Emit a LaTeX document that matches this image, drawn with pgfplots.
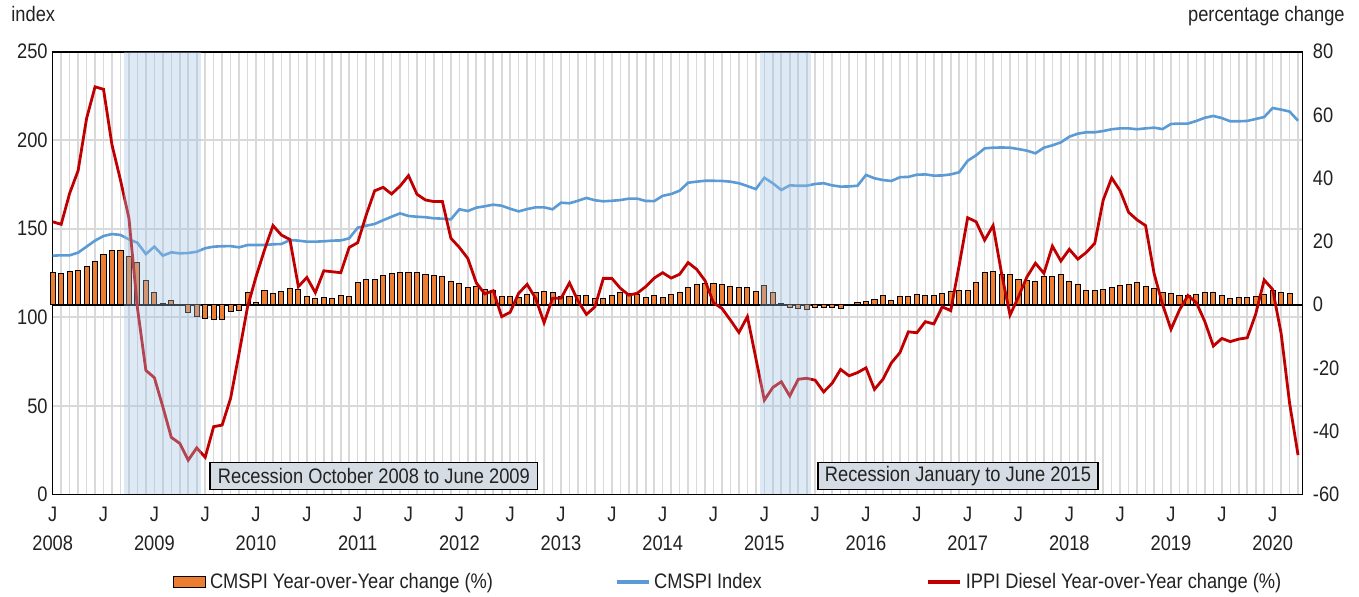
\documentclass[border=0pt]{standalone}
\usepackage{fontspec}
\setmainfont[FakeStretch=0.87]{Liberation Sans}
\usepackage{pgfplots}
\usepackage{pgfplotstable}
\pgfplotsset{compat=1.18}
\definecolor{barorange}{HTML}{ED7D31}
\definecolor{idxblue}{HTML}{5B9BD5}
\definecolor{dieselred}{HTML}{C00000}
\definecolor{gridgray}{HTML}{D9D9D9}
\definecolor{recfill}{HTML}{9DC3E6}
\definecolor{boxfill}{HTML}{D6DCE4}
\definecolor{txt}{HTML}{222222}

\pgfplotstableread{
m v
0 10.1
1 9.9
2 10.6
3 10.7
4 12.2
5 13.7
6 15.9
7 17.2
8 17.0
9 15.1
10 13.3
11 7.6
12 3.8
13 0.2
14 1.4
15 -0.3
16 -2.6
17 -3.6
18 -4.5
19 -4.7
20 -4.7
21 -2.3
22 -2.0
23 3.9
24 0.8
25 4.5
26 3.6
27 4.2
28 5.2
29 4.8
30 2.7
31 1.8
32 2.1
33 1.8
34 2.8
35 2.7
36 7.1
37 7.8
38 8.0
39 9.3
40 9.8
41 10.2
42 10.2
43 10.1
44 9.6
45 9.1
46 8.8
47 7.4
48 6.7
49 5.5
50 5.7
51 4.9
52 4.4
53 2.7
54 2.7
55 2.2
56 3.3
57 3.9
58 4.0
59 3.9
60 2.5
61 2.5
62 2.8
63 3.0
64 1.8
65 1.8
66 2.9
67 3.9
68 3.4
69 3.1
70 2.3
71 2.8
72 2.3
73 3.3
74 3.8
75 5.5
76 6.4
77 6.8
78 6.6
79 6.3
80 5.8
81 5.5
82 5.5
83 4.3
84 6.1
85 3.7
86 0.2
87 -1.0
88 -1.3
89 -1.5
90 -1.0
91 -0.9
92 -1.0
93 -1.3
94 -0.3
95 0.8
96 0.9
97 1.7
98 3.0
99 1.4
100 2.7
101 2.7
102 3.1
103 3.0
104 2.9
105 3.6
106 4.0
107 4.5
108 4.6
109 6.9
110 10.2
111 10.5
112 9.6
113 9.4
114 8.0
115 7.5
116 7.3
117 8.8
118 9.0
119 9.5
120 7.4
121 6.5
122 4.6
123 4.6
124 4.9
125 5.4
126 6.1
127 6.5
128 6.9
129 5.6
130 5.1
131 3.9
132 3.6
133 2.9
134 2.9
135 3.3
136 3.8
137 3.7
138 2.9
139 1.9
140 2.3
141 2.1
142 2.5
143 3.3
144 4.4
145 3.8
146 3.4
}\bars

\pgfplotstableread{
m v
0 134.8
1 135.0
2 135.0
3 136.5
4 139.9
5 143.3
6 145.9
7 147.0
8 146.5
9 144.0
10 142.1
11 135.7
12 139.9
13 134.8
14 136.7
15 136.1
16 136.3
17 137.0
18 139.0
19 139.9
20 140.1
21 140.2
22 139.5
23 140.8
24 140.8
25 140.8
26 141.2
27 141.4
28 143.6
29 143.3
30 142.7
31 142.7
32 142.9
33 143.3
34 143.4
35 144.6
36 150.6
37 151.7
38 152.7
39 154.8
40 156.8
41 158.7
42 157.2
43 156.8
44 156.5
45 155.9
46 155.7
47 155.3
48 161.0
49 160.0
50 161.9
51 162.7
52 163.6
53 163.0
54 161.3
55 159.8
56 161.1
57 162.1
58 162.1
59 161.0
60 164.7
61 164.4
62 165.8
63 167.4
64 166.1
65 165.5
66 165.8
67 166.2
68 167.0
69 167.0
70 165.7
71 165.6
72 168.6
73 169.6
74 171.5
75 176.0
76 176.6
77 177.1
78 177.1
79 177.0
80 176.6
81 175.7
82 174.1
83 172.4
84 178.8
85 175.7
86 171.9
87 174.5
88 174.3
89 174.3
90 175.3
91 175.7
92 174.5
93 173.8
94 173.9
95 174.3
96 180.4
97 178.5
98 177.5
99 177.0
100 179.1
101 179.3
102 180.5
103 180.7
104 180.0
105 180.1
106 180.7
107 181.9
108 188.4
109 191.5
110 195.4
111 195.8
112 195.9
113 195.8
114 195.0
115 194.1
116 192.6
117 195.8
118 197.1
119 198.8
120 202.0
121 203.7
122 204.5
123 204.5
124 205.2
125 206.2
126 206.7
127 206.7
128 206.2
129 206.7
130 207.1
131 206.3
132 209.2
133 209.4
134 209.4
135 210.9
136 212.7
137 213.7
138 212.5
139 210.7
140 210.7
141 210.9
142 212.0
143 213.1
144 218.2
145 217.3
146 216.2
147 211.0
}\cmspi

\pgfplotstableread{
m v
0 26.2
1 25.4
2 35.2
3 42.4
4 58.9
5 68.9
6 68.1
7 50.5
8 39.4
9 27.3
10 -1.0
11 -20.8
12 -23.1
13 -32.3
14 -42.0
15 -43.9
16 -49.2
17 -45.3
18 -48.3
19 -38.6
20 -38.1
21 -29.6
22 -15.4
23 -0.7
24 8.8
25 17.3
26 25.0
27 22.0
28 20.6
29 5.7
30 8.6
31 3.8
32 10.7
33 10.4
34 10.1
35 18.1
36 19.6
37 28.3
38 36.0
39 37.1
40 35.0
41 37.5
42 40.8
43 34.9
44 33.1
45 32.6
46 32.6
47 21.0
48 18.1
49 14.6
50 6.9
51 3.4
52 4.4
53 -3.8
54 -2.4
55 3.6
56 6.4
57 2.0
58 -5.7
59 2.0
60 2.0
61 6.9
62 1.2
63 -3.1
64 -0.7
65 8.3
66 8.3
67 5.2
68 3.0
69 3.6
70 5.7
71 8.4
72 10.1
73 8.4
74 9.6
75 13.3
76 11.2
77 7.6
78 0.6
79 -1.2
80 -4.9
81 -8.8
82 -3.8
83 -17.0
84 -30.2
85 -26.2
86 -24.4
87 -28.9
88 -23.6
89 -23.3
90 -23.9
91 -27.6
92 -24.9
93 -20.5
94 -22.5
95 -21.5
96 -20.0
97 -26.8
98 -23.6
99 -18.4
100 -15.2
101 -8.6
102 -8.9
103 -5.4
104 -6.1
105 -0.7
106 -1.9
107 12.5
108 27.5
109 26.2
110 20.4
111 25.0
112 9.9
113 -3.3
114 2.5
115 8.8
116 13.1
117 9.9
118 18.5
119 13.8
120 17.5
121 14.4
122 16.5
123 19.4
124 33.1
125 40.1
126 36.0
127 29.2
128 26.8
129 25.0
130 9.9
131 0.1
132 -7.8
133 -1.7
134 2.9
135 0.6
136 -5.4
137 -13.1
138 -10.7
139 -11.7
140 -10.9
141 -10.5
142 -3.0
143 7.8
144 4.8
145 -9.1
146 -31.2
147 -47.6
}\diesel

\pgfplotsset{
  common/.style={
    width=624.8pt, height=221.3pt, scale only axis,
    at={(0,0)}, anchor=south west,
    xmin=0, xmax=147.5,
    major tick length=0pt, minor tick length=0pt,
    tick label style={font=\fontsize{10.5}{12}\selectfont, text=txt},
    /pgf/number format/assume math mode=true,
    legend style={draw=none, fill=none, inner sep=0pt, outer sep=0pt,
      anchor=west, font=\fontsize{10.5}{12}\selectfont, text=txt,
      legend cell align=left},
  },
}

\begin{document}
\begin{tikzpicture}
\useasboundingbox (-26.35pt,-50.85pt) rectangle (653.15pt,247.15pt);

% Axis A: left scale, grid, CMSPI index
\begin{axis}[common, name=A,
  ymin=0, ymax=250, ytick={0,50,...,250},
  xtick={0,6,...,144},
  xticklabels={{J\\2008},J,{J\\2009},J,{J\\2010},J,{J\\2011},J,{J\\2012},J,{J\\2013},J,{J\\2014},J,{J\\2015},J,{J\\2016},J,{J\\2017},J,{J\\2018},J,{J\\2019},J,{J\\2020}},
  xticklabel style={align=center, font=\fontsize{10.5}{14.65}\selectfont, yshift=-2.7pt},
  minor xtick={0,1,...,147},
  grid=both,
  major grid style={draw=gridgray, line width=0.8pt},
  minor grid style={draw=gridgray, line width=0.8pt},
  axis line style={black, line width=0.8pt},
  ytick pos=left, xtick pos=bottom,
  yticklabel style={xshift=1pt},
  legend style={at={(0.4500,-0.1981)}},
  legend image code/.code={\draw[idxblue, line width=1.6pt] (0pt,0pt) -- (16pt,0pt);},
]
\addplot[idxblue, line width=1.3pt] table[x=m, y=v] {\cmspi};
\addlegendentry{CMSPI Index}
\end{axis}

% Axis B: right scale, bars
\begin{axis}[common, name=B,
  ymin=-60, ymax=80, ytick={-60,-40,...,80},
  axis x line=none, axis y line*=right,
  axis line style={black, line width=0.8pt},
  yticklabel pos=right,
  yticklabel style={xshift=1.8pt},
  extra y ticks={0}, extra y tick labels={},
  extra y tick style={grid=major, major grid style={black, line width=1pt}},
  clip=false,
  legend style={at={(0.0963,-0.1981)}},
]
\addplot[ybar, bar width=0.6, fill=barorange, draw=black, line width=0.5pt,
  legend image code/.code={\draw[fill=barorange, draw=black, line width=0.5pt] (0pt,-2.8pt) rectangle (16pt,2.8pt);}]
  table[x=m, y=v] {\bars};
\addlegendentry{CMSPI Year-over-Year change (\%)}
\end{axis}

% Axis C: right scale, diesel line, recession shading and labels
\begin{axis}[common, name=C,
  ymin=-60, ymax=80, hide axis,
  legend style={at={(0.6993,-0.1981)}},
  legend image code/.code={\draw[dieselred, line width=1.6pt] (0pt,0pt) -- (16pt,0pt);},
]
\addplot[dieselred, line width=1.4pt] table[x=m, y=v] {\diesel};
\addlegendentry{IPPI Diesel Year-over-Year change (\%)}
\addplot[draw=none, fill=recfill, fill opacity=0.35, forget plot]
  coordinates {(8.4,-60) (8.4,80) (17.45,80) (17.45,-60)} -- cycle;
\addplot[draw=none, fill=recfill, fill opacity=0.35, forget plot]
  coordinates {(83.5,-60) (83.5,80) (89.5,80) (89.5,-60)} -- cycle;
\node[draw=black, line width=0.6pt, fill=boxfill, text=txt,
  minimum width=163.85pt, minimum height=13.5pt, inner sep=1pt,
  font=\fontsize{10.5}{12}\selectfont]
  at (axis cs:37.91,-54.15) {Recession October 2008 to June 2009};
\node[draw=black, line width=0.6pt, fill=boxfill, text=txt,
  minimum width=140pt, minimum height=13.5pt, inner sep=1pt,
  font=\fontsize{10.5}{12}\selectfont]
  at (axis cs:106.86,-54.15) {Recession January to June 2015};
\end{axis}

\node[anchor=base west, text=txt, inner sep=0pt, font=\fontsize{10.5}{12}\selectfont]
  at ([xshift=-20.85pt, yshift=15pt]A.north west) {index};
\node[anchor=base east, text=txt, inner sep=0pt, font=\fontsize{10.5}{12}\selectfont]
  at ([xshift=21.35pt, yshift=15pt]A.north east) {percentage change};
\end{tikzpicture}
\end{document}
